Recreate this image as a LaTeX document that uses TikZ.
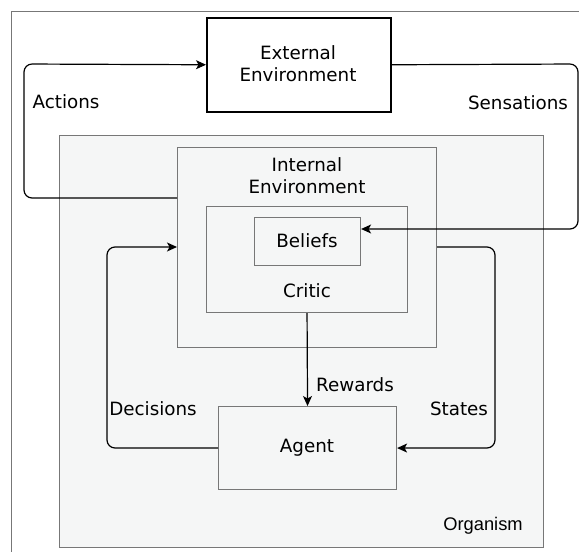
\documentclass[tikz,border=0pt]{standalone}
\usepackage{fontspec}
\setmainfont{DejaVu Sans}
\newfontfamily\arialfont{Liberation Sans}
\usetikzlibrary{arrows.meta}
\definecolor{orgfill}{HTML}{F5F6F6}
\definecolor{boxgray}{HTML}{777777}
\begin{document}
\begin{tikzpicture}[x=1pt,y=-1pt,
  lbl/.style={font=\fontsize{18.3}{22}\selectfont, inner sep=0pt},
  graybox/.style={draw=boxgray, line width=1.1pt},
  flow/.style={draw=black, line width=1.2pt, rounded corners=8pt, -{Stealth[length=10pt,width=9pt,inset=2.5pt]}}]
\useasboundingbox (0,0) rectangle (579,552);
\fill[white] (0,0) rectangle (579,552);
% outer frame (cropped)
\draw[boxgray, line width=1pt] (11,552) -- (11,11) -- (579,11);
% Organism
\node[graybox, fill=orgfill, minimum width=484pt, minimum height=412pt, anchor=north west, inner sep=0pt] (org) at (59,135) {};
\node[lbl, font=\arialfont\fontsize{18.3}{22}\selectfont] (orglbl) at (483,525.5) {Organism};
% External environment
\node[draw=black, line width=1.5pt, fill=white, minimum width=184pt, minimum height=94pt, anchor=north west, inner sep=0pt] (ext) at (206,17) {};
\node[lbl, align=center] (extlbl) at (298,64) {External\\Environment};
% Internal environment
\node[graybox, fill=orgfill, minimum width=259pt, minimum height=200pt, anchor=north west, inner sep=0pt] (int) at (177,147) {};
\node[lbl, align=center] (intlbl) at (307,176) {Internal\\Environment};
% Critic
\node[graybox, fill=orgfill, minimum width=201pt, minimum height=106pt, anchor=north west, inner sep=0pt] (critic) at (206,206) {};
\node[lbl] (criticlbl) at (307,291) {Critic};
% Beliefs
\node[graybox, fill=orgfill, minimum width=106pt, minimum height=48pt, anchor=north west, inner sep=0pt] (bel) at (254,217) {};
\node[lbl] (bellbl) at (307,241) {Beliefs};
% Agent
\node[graybox, fill=orgfill, minimum width=178pt, minimum height=83pt, anchor=north west, inner sep=0pt] (agent) at (218,406) {};
\node[lbl] (agentlbl) at (307,448) {Agent};
% coordinates
\coordinate (intA) at (int.west |- 0,198);
\coordinate (intD) at (int.west |- 0,247);
\coordinate (intS) at (int.east |- 0,247);
\coordinate (belS) at (bel.east |- 0,229);
% Actions
\draw[flow] (intA) -- (24,198) -- (24,64) -- (ext.west);
\node[lbl] (actlbl) at (66,102) {Actions};
% Sensations
\draw[flow] (ext.east) -- (578,64) -- (578,229) -- (belS);
\node[lbl] (senlbl) at (518,103) {Sensations};
% Decisions
\draw[flow] (agent.west) -- (107,448) -- (107,247) -- (intD);
\node[lbl] (declbl) at (153,409) {Decisions};
% States
\draw[flow] (intS) -- (495,247) -- (495,448) -- (agent.east);
\node[lbl] (stlbl) at (459,409) {States};
% Rewards
\draw[flow] (critic.south) -- (agent.north);
\node[lbl] (rewlbl) at (355,385) {Rewards};
\end{tikzpicture}
\end{document}
